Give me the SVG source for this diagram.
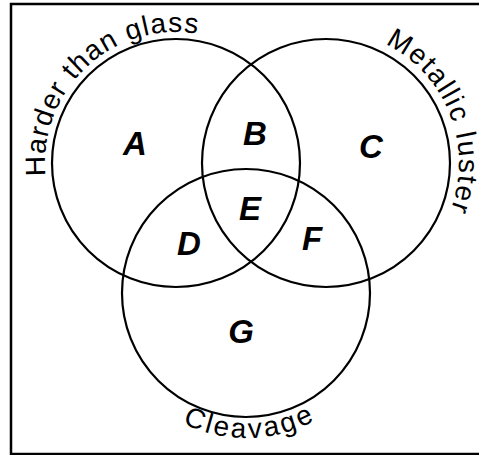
<svg xmlns="http://www.w3.org/2000/svg" width="479" height="455" viewBox="0 0 479 455">
<style>
.c{fill:none;stroke:#000;stroke-width:2.2}
.lbl{font-family:"Liberation Sans",Arial,sans-serif;font-size:33px;font-weight:bold;font-style:italic;text-anchor:middle;fill:#000}
.cap{font-family:"Liberation Sans",Arial,sans-serif;font-size:28px;fill:#000}
</style>
<defs>
<path id="pA" d="M45.65,176 A131,131 0 0 1 241.5,49.6"/>
<path id="pC" d="M385.1,43.9 A133,133 0 0 1 427.9,248.5"/>
<path id="pG" d="M182.4,423.3 A145,145 0 0 0 339.2,404.1"/>
</defs>
<rect x="11" y="4" width="490" height="450" fill="#fff" stroke="#000" stroke-width="2.5"/>
<g id="circleA"><circle class="c" cx="176" cy="163" r="124"/>
<text class="cap"><textPath href="#pA" textLength="240" lengthAdjust="spacing">Harder than glass</textPath></text></g>
<g id="circleC"><circle class="c" cx="326" cy="163" r="124"/>
<text class="cap"><textPath href="#pC" textLength="195" lengthAdjust="spacing">Metallic luster</textPath></text></g>
<g id="circleG"><circle class="c" cx="246" cy="293" r="124"/>
<text class="cap"><textPath href="#pG" textLength="137" lengthAdjust="spacing">Cleavage</textPath></text></g>
<g id="regionA"><text class="lbl" x="135" y="155">A</text></g>
<g id="regionB"><text class="lbl" x="255" y="145">B</text></g>
<g id="regionC"><text class="lbl" x="371" y="158">C</text></g>
<g id="regionD"><text class="lbl" x="189" y="255">D</text></g>
<g id="regionE"><text class="lbl" x="250" y="220">E</text></g>
<g id="regionF"><text class="lbl" x="312" y="250">F</text></g>
<g id="regionG"><text class="lbl" x="241" y="343">G</text></g>
<g id="connectors"/>
</svg>
